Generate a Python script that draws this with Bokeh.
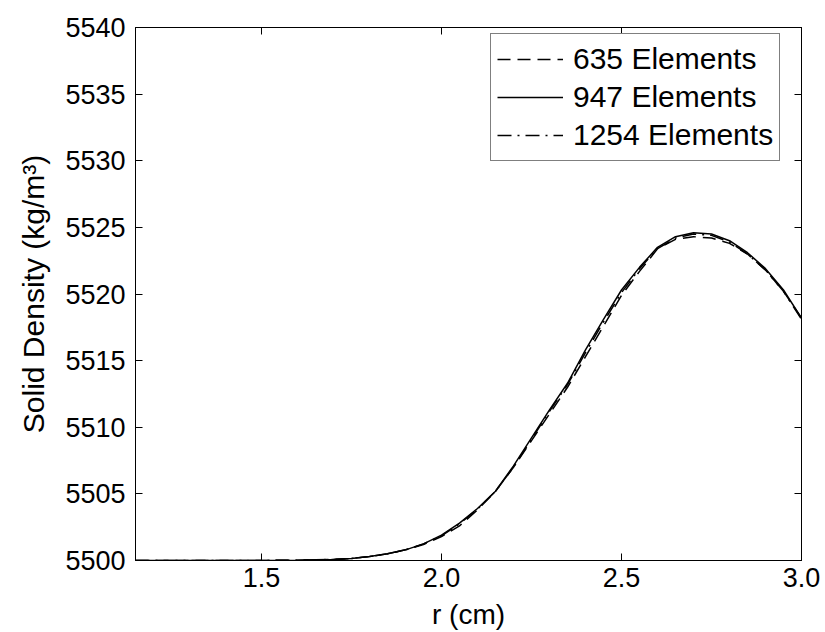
from bokeh.plotting import figure
from bokeh.models import LinearAxis, FixedTicker, PrintfTickFormatter, Range1d, Legend, LegendItem
from bokeh.embed import file_html
from bokeh.resources import INLINE

# data
r_635 = [1.15, 1.3, 1.45, 1.6, 1.7, 1.75, 1.8, 1.85, 1.9, 1.95, 2.0, 2.05, 2.1, 2.15, 2.2, 2.25,
         2.3, 2.35, 2.4, 2.45, 2.5, 2.55, 2.58, 2.6, 2.65, 2.7, 2.75, 2.8, 2.85, 2.9, 2.95, 3.0]
rho_635 = [5500.0, 5500.0, 5500.0, 5500.02, 5500.08, 5500.15, 5500.3, 5500.5, 5500.8, 5501.2, 5501.8,
           5502.6, 5503.8, 5505.2, 5507.0, 5509.0, 5511.0, 5513.0, 5515.3, 5517.6, 5519.9, 5521.7,
           5522.7, 5523.4, 5524.1, 5524.3, 5524.2, 5523.8, 5523.0, 5521.8, 5520.2, 5518.2]

r_947 = [1.15, 1.3, 1.45, 1.6, 1.7, 1.75, 1.8, 1.85, 1.9, 1.95, 2.0, 2.05, 2.1, 2.15, 2.2, 2.25,
         2.3, 2.35, 2.4, 2.45, 2.5, 2.55, 2.6, 2.65, 2.7, 2.75, 2.8, 2.85, 2.9, 2.95, 3.0]
rho_947 = [5500.0, 5500.0, 5500.0, 5500.02, 5500.08, 5500.15, 5500.3, 5500.5, 5500.8, 5501.25, 5501.9,
           5502.8, 5503.9, 5505.2, 5507.1, 5509.2, 5511.3, 5513.3, 5515.8, 5518.1, 5520.3, 5522.0,
           5523.5, 5524.3, 5524.6, 5524.5, 5524.0, 5523.1, 5521.9, 5520.3, 5518.2]

r_1254 = [1.15, 1.3, 1.45, 1.6, 1.7, 1.75, 1.8, 1.85, 1.9, 1.95, 2.0, 2.05, 2.1, 2.15, 2.2, 2.25,
          2.3, 2.35, 2.4, 2.45, 2.5, 2.55, 2.6, 2.65, 2.7, 2.75, 2.8, 2.85, 2.9, 2.95, 3.0]
rho_1254 = [5500.0, 5500.0, 5500.0, 5500.02, 5500.08, 5500.15, 5500.3, 5500.5, 5500.8, 5501.25, 5501.85,
            5502.75, 5503.85, 5505.2, 5507.0, 5509.1, 5511.2, 5513.2, 5515.6, 5517.9, 5520.1, 5521.9,
            5523.4, 5524.2, 5524.5, 5524.4, 5523.9, 5523.0, 5521.8, 5520.2, 5518.1]

x_ticks = [1.5, 2.0, 2.5, 3.0]
y_ticks = [5500, 5505, 5510, 5515, 5520, 5525, 5530, 5535, 5540]

FONT = "Liberation Sans"
TICK_FS = "27px"

p = figure(width=825, height=632, output_backend="svg", toolbar_location=None,
           x_range=Range1d(1.15, 3.0), y_range=Range1d(5500, 5540),
           x_axis_type=None, y_axis_type=None,
           frame_width=666, frame_height=533,
           min_border_left=135, min_border_right=24, min_border_top=27, min_border_bottom=72)
p.grid.visible = False
p.outline_line_color = "black"
p.outline_line_width = 1
p.background_fill_color = "white"
p.border_fill_color = "white"


def style_axis(ax, show_labels, label_fs="28px"):
    ax.axis_line_color = "black"
    ax.major_tick_line_color = "black"
    ax.major_tick_in = 7
    ax.major_tick_out = 0
    ax.minor_tick_line_color = None
    ax.major_label_text_font = FONT
    ax.major_label_text_font_size = TICK_FS if show_labels else "0px"
    ax.major_label_text_color = "black"
    ax.axis_label_text_font = FONT
    ax.axis_label_text_font_size = label_fs
    ax.axis_label_text_font_style = "normal"
    ax.axis_label_text_color = "black"


xb = LinearAxis(ticker=FixedTicker(ticks=x_ticks), formatter=PrintfTickFormatter(format="%.1f"),
                axis_label="r (cm)")
style_axis(xb, True, "28px")
xb.major_label_standoff = 7
xb.axis_label_standoff = 9
p.add_layout(xb, "below")

yl = LinearAxis(ticker=FixedTicker(ticks=y_ticks), axis_label="Solid Density (kg/m³)")
style_axis(yl, True, "30px")
yl.major_label_standoff = 10
yl.axis_label_standoff = 12
p.add_layout(yl, "left")

xt = LinearAxis(ticker=FixedTicker(ticks=x_ticks))
style_axis(xt, False)
xt.major_label_standoff = 0
p.add_layout(xt, "above")

yr = LinearAxis(ticker=FixedTicker(ticks=y_ticks))
style_axis(yr, False)
yr.major_label_standoff = 0
p.add_layout(yr, "right")

l1 = p.line(r_635, rho_635, line_color="black", line_width=1.5, line_dash="13 7")
l2 = p.line(r_947, rho_947, line_color="black", line_width=1.5)
l3 = p.line(r_1254, rho_1254, line_color="black", line_width=1.5, line_dash="14 6 2 6")

legend = Legend(items=[LegendItem(label="635 Elements", renderers=[l1]),
                       LegendItem(label="947 Elements", renderers=[l2]),
                       LegendItem(label="1254 Elements", renderers=[l3])],
                location=(355, 399))
legend.label_text_font = FONT
legend.label_text_font_size = "30px"
legend.label_text_color = "black"
legend.border_line_color = "black"
legend.border_line_width = 1
legend.background_fill_color = "white"
legend.background_fill_alpha = 1.0
legend.padding = 6
legend.spacing = 0
legend.margin = 0
legend.glyph_width = 66
legend.glyph_height = 38
legend.label_height = 38
legend.label_standoff = 10
p.add_layout(legend, "center")

open("out.html", "w").write(file_html(p, INLINE))
